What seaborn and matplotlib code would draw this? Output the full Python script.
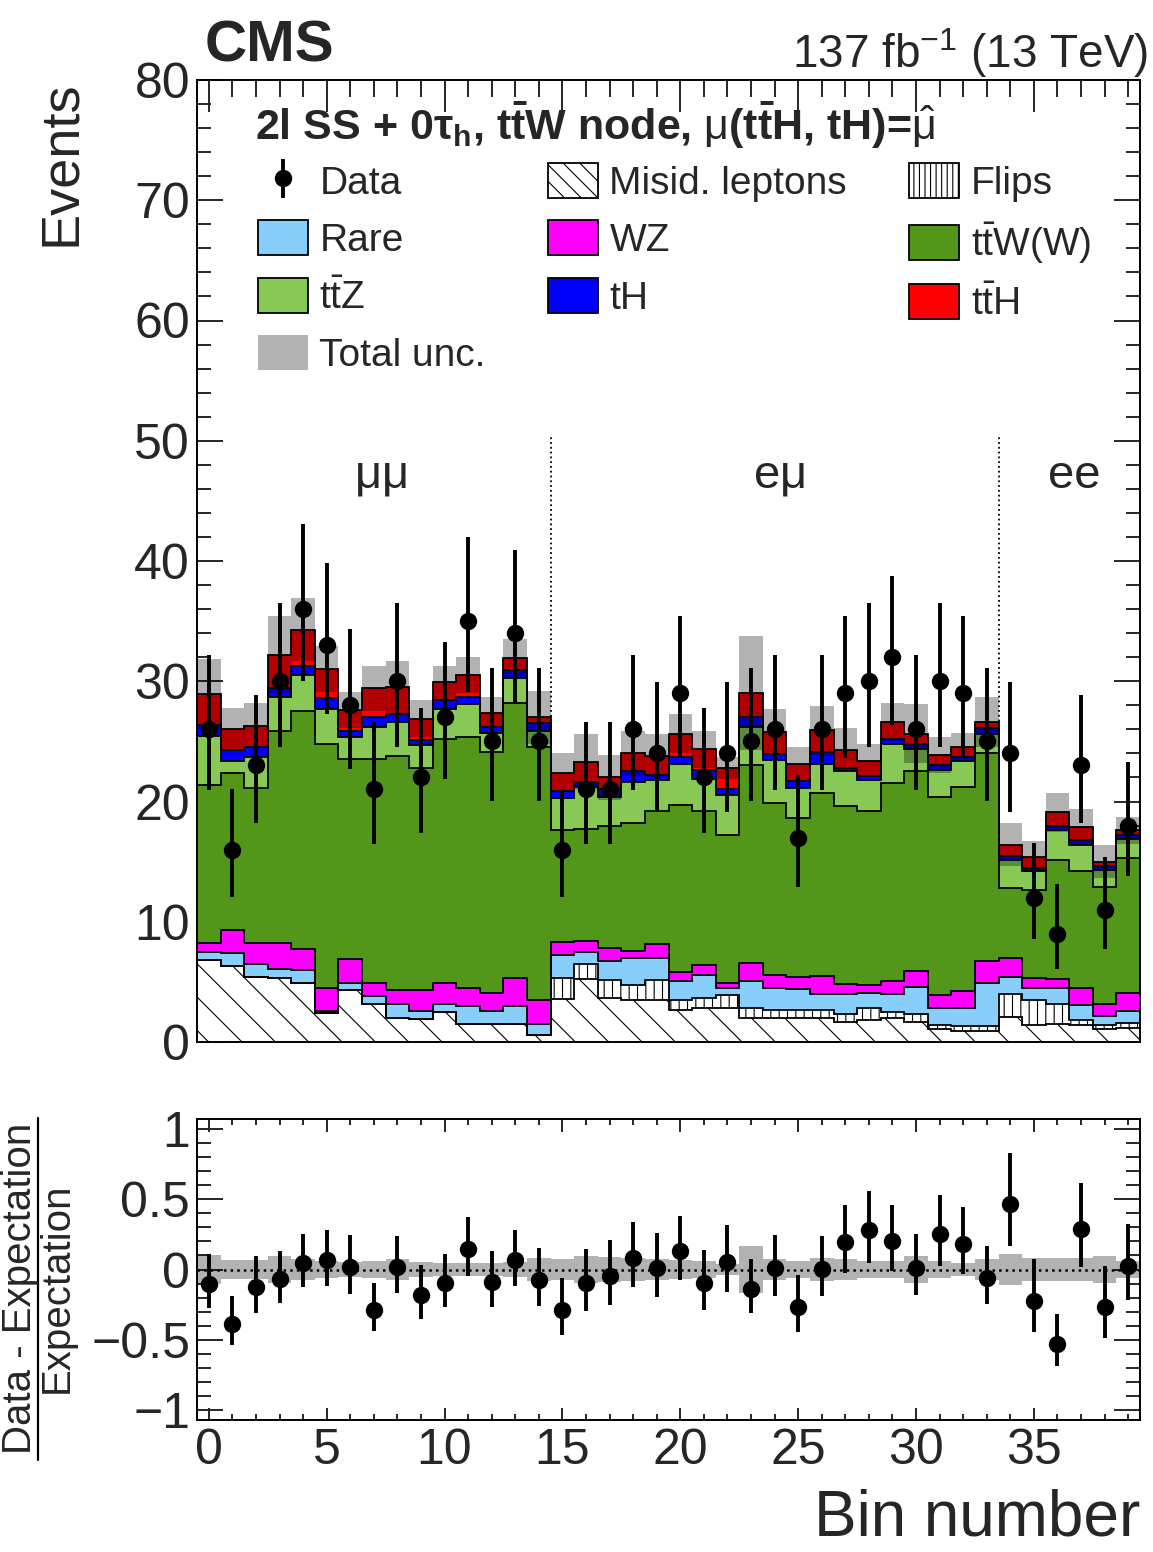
import numpy as np
import pandas as pd
import matplotlib.pyplot as plt
from matplotlib.patches import Patch
from matplotlib.lines import Line2D
from matplotlib.ticker import MultipleLocator
import seaborn as sns

# bin contents (events per bin)
bins = np.arange(40)
edges = np.arange(41) - 0.5

data = [26, 16, 23, 30, 36, 33, 28, 21, 30, 22, 27, 35, 25, 34, 25,
        16, 21, 21, 26, 24, 29, 22, 24, 25, 26, 17, 26, 29, 30, 32, 26, 30, 29, 25,
        24, 12, 9, 23, 11, 18]

misid = [6.8, 6.3, 5.4, 5.3, 4.9, 2.4, 4.3, 3.2, 2.0, 1.9, 2.5, 1.5, 1.5, 1.5, 0.6,
         3.6, 5.2, 3.7, 3.5, 3.5, 2.7, 2.8, 2.8, 2.0, 2.0, 2.0, 2.0, 1.7, 1.8, 2.0, 1.7, 1.1, 0.9, 0.9,
         2.1, 1.4, 1.5, 1.4, 1.1, 1.2]
flips = [0] * 15 + [1.7, 1.3, 1.45, 1.2, 1.65, 0.8, 0.9, 1.1, 0.8, 0.66, 0.66, 0.66, 0.6, 1.0, 0.5,
                    0.6, 0.3, 0.4, 0.4,
                    1.9, 2.1, 1.7, 0.4, 0.3, 0.4]
rare = [0.7, 1.1, 1.1, 0.8, 1.1, 0.2, 0.6, 0.6, 1.2, 0.7, 0.7, 1.5, 1.1, 1.5, 0.9,
        1.9, 1.0, 1.55, 2.26, 1.8, 1.6, 1.9, 0.6, 2.3, 1.85, 1.75, 1.35, 1.7, 1.3, 1.5, 2.3, 1.4, 1.5, 3.6,
        1.4, 1.0, 1.3, 1.3, 0.8, 1.0]
wz = [0.75, 1.9, 1.75, 2.1, 1.7, 1.9, 2.0, 1.1, 1.1, 1.7, 1.7, 1.45, 1.5, 2.3, 2.0,
      1.1, 0.9, 1.1, 0.64, 1.24, 0.7, 0.8, 0.4, 1.5, 1.1, 1.0, 1.5, 0.85, 0.6, 1.1, 1.3, 1.1, 1.4, 1.8,
      1.6, 0.8, 0.7, 1.4, 1.0, 1.5]
ttw = [13.1, 13.1, 12.85, 17.65, 19.8, 20.3, 16.6, 18.6, 19.5, 18.45, 20.3, 20.95, 20.0, 22.9, 21.0,
       9.3, 9.3, 10.2, 10.6, 11.0, 13.9, 12.8, 12.3, 16.4, 14.3, 13.2, 15.2, 14.75, 14.5, 16.4, 16.6, 16.5, 17.0, 17.3,
       5.8, 7.3, 9.9, 9.7, 9.7, 11.2]
ttz = [4.1, 1.0, 2.6, 2.8, 3.0, 2.9, 1.9, 2.7, 2.8, 1.95, 2.5, 2.7, 1.6, 2.1, 1.4,
       2.65, 3.5, 2.4, 3.4, 2.6, 3.4, 2.7, 3.3, 3.2, 3.5, 2.5, 2.4, 2.9, 2.6, 3.3, 1.9, 2.2, 2.2, 1.65,
       2.3, 1.6, 2.5, 2.2, 1.4, 1.6]
th = [0.9, 0.9, 0.8, 0.75, 0.8, 0.9, 0.5, 0.8, 0.7, 0.4, 0.7, 0.6, 0.5, 0.6, 0.6,
      0.65, 0.4, 0.6, 0.9, 0.4, 0.6, 0.7, 0.5, 0.8, 0.5, 0.6, 1.0, 0.3, 0.3, 0.4, 0.35, 0.4, 0.3, 0.45,
      0.4, 0.3, 0.4, 0.4, 0.3, 0.3]
tth = [2.6, 1.7, 1.8, 2.8, 3.0, 2.4, 1.7, 2.4, 2.2, 1.8, 1.5, 1.8, 1.2, 1.05, 0.5,
       1.5, 1.7, 1.0, 1.5, 1.6, 1.95, 1.75, 1.8, 2.0, 1.9, 1.4, 1.8, 1.5, 1.3, 1.4, 0.9, 0.9, 0.8, 0.5,
       0.9, 0.9, 1.1, 1.1, 0.4, 0.4]
tot_unc = [2.9, 1.8, 1.85, 3.2, 2.6, 1.9, 1.5, 1.85, 2.2, 1.5, 1.35, 1.5, 1.25, 1.6, 2.2,
           1.65, 2.3, 1.9, 1.9, 1.8, 1.65, 1.55, 0.9, 4.75, 1.9, 1.45, 2.06, 1.8, 1.4, 1.55, 2.45, 1.5, 1.2, 2.05,
           1.8, 1.3, 1.6, 1.5, 1.4, 1.1]

procs = ['misid', 'flips', 'rare', 'wz', 'ttw', 'ttz', 'th', 'tth']
yields = [misid, flips, rare, wz, ttw, ttz, th, tth]
colors = {'misid': '#ffffff', 'flips': '#ffffff', 'rare': '#87cefa', 'wz': '#ff00ff',
          'ttw': '#52961a', 'ttz': '#88c855', 'th': '#0000ff', 'tth': '#ff0000'}
labels = {'misid': 'Misid. leptons', 'flips': 'Flips', 'rare': 'Rare', 'wz': 'WZ',
          'ttw': r't$\mathrm{\bar{t}}$W(W)', 'ttz': r't$\mathrm{\bar{t}}$Z',
          'th': 'tH', 'tth': r't$\mathrm{\bar{t}}$H'}

df = pd.DataFrame({'bin': np.tile(bins, len(procs)),
                   'process': np.repeat(procs, len(bins)),
                   'events': np.concatenate(yields)})

cum = np.cumsum(np.array(yields), axis=0)
total = cum[-1]
unc = np.array(tot_unc)
n = np.array(data, dtype=float)


# Garwood (68%) Poisson intervals via the Wilson-Hilferty chi2 approximation
def chi2q(k, z):
    return k * (1 - 2 / (9 * k) + z * np.sqrt(2 / (9 * k))) ** 3


err_lo = n - chi2q(2 * n, -1.0) / 2
err_hi = chi2q(2 * n + 2, 1.0) / 2 - n

sns.set_theme(style='ticks')
plt.rcParams.update({
    'font.family': ['Liberation Sans', 'DejaVu Sans'],
    'mathtext.fontset': 'custom',
    'mathtext.rm': 'Liberation Sans',
    'mathtext.it': 'Liberation Sans:italic',
    'mathtext.bf': 'Liberation Sans:bold',
    'xtick.direction': 'in', 'ytick.direction': 'in',
    'xtick.top': True, 'ytick.right': True,
    'axes.linewidth': 1.4, 'axes.edgecolor': 'black',
    'hatch.linewidth': 0.8, 'hatch.color': 'black',
})

W, H = 1153, 1552
fig = plt.figure(figsize=(W / 100, H / 100), dpi=100)
ax = fig.add_axes([197 / W, 1 - 1042 / H, 943 / W, 962 / H])
rax = fig.add_axes([197 / W, 1 - 1420 / H, 943 / W, 301 / H])

# channel separators (behind the stack)
ax.vlines([14.5, 33.5], 0, 50.5, colors='black', linestyles=':', lw=1.3, zorder=0.5)

# stacked backgrounds + signal
sns.histplot(df, x='bin', weights='events', hue='process', hue_order=procs[::-1],
             palette=colors, multiple='stack', discrete=True, element='step',
             alpha=1, linewidth=0, legend=False, ax=ax)

ax.stairs(cum[0], edges, baseline=0, fill=True, facecolor='none', edgecolor='black',
          hatch='\\', lw=0)
ax.stairs(cum[1], edges, baseline=cum[0], fill=True, facecolor='none', edgecolor='black',
          hatch='||', lw=0)
for row in cum:
    ax.stairs(row, edges, baseline=None, color='black', lw=1.3)

ax.stairs(total + unc, edges, baseline=total - unc, fill=True, color='black', alpha=0.3, lw=0)

h_data = ax.errorbar(bins, n, yerr=[err_lo, err_hi], fmt='o', color='black', ms=11.5,
                     elinewidth=2.8, capsize=0, zorder=5)

ax.text(7.3, 47.1, r'$\mathrm{\mu\mu}$', ha='center', va='center', fontsize=34)
ax.text(24.2, 47.1, r'e$\mathrm{\mu}$', ha='center', va='center', fontsize=34)
ax.text(36.7, 47.1, 'ee', ha='center', va='center', fontsize=34)

ax.text(0.0615, 0.953,
        r'2l SS + 0$\mathbf{\tau_{h}}$, t$\mathbf{\bar{t}}$W node, '
        r'$\mathrm{\mu}$(t$\mathbf{\bar{t}}$H, tH)=$\mathrm{\hat{\mu}}$',
        transform=ax.transAxes, ha='left', va='center', fontsize=31, fontweight='bold')

ax.set_xlim(-0.5, 39.5)
ax.set_ylim(0, 80)
ax.xaxis.set_major_locator(MultipleLocator(5))
ax.xaxis.set_minor_locator(MultipleLocator(1))
ax.yaxis.set_major_locator(MultipleLocator(10))
ax.yaxis.set_minor_locator(MultipleLocator(2))
ax.tick_params(axis='x', which='major', length=23, width=1.4, labelbottom=False)
ax.tick_params(axis='x', which='minor', length=12, width=1.4)
ax.tick_params(axis='y', which='major', length=19, width=1.4, labelsize=36, pad=5)
ax.tick_params(axis='y', which='minor', length=10, width=1.4)
ax.set_xlabel('')
ax.set_ylabel('Events', fontsize=39, loc='top')
ax.yaxis.set_label_coords(-0.118, 1.0)

# legend
def box(p, **kw):
    return Patch(facecolor=colors[p], edgecolor='black', lw=1.3, label=labels[p], **kw)

h_unc = Patch(facecolor='black', alpha=0.3, edgecolor='none', label='Total unc.')
handles = [h_data, box('rare'), box('ttz'), h_unc,
           box('misid', hatch='\\\\'), box('wz'), box('th'),
           box('flips', hatch='|||'), box('ttw'), box('tth')]
leg_labels = ['Data', labels['rare'], labels['ttz'], 'Total unc.',
              labels['misid'], labels['wz'], labels['th'],
              labels['flips'], labels['ttw'], labels['tth']]
ax.legend(handles, leg_labels, ncol=3, loc='upper left', bbox_to_anchor=(0.0647, 0.9137),
          frameon=False, fontsize=28, handlelength=1.28, handleheight=1.0,
          handletextpad=0.3, labelspacing=0.48, columnspacing=1.6,
          borderpad=0, borderaxespad=0)

# ratio panel
rel_unc = unc / total
rax.stairs(rel_unc, edges, baseline=-rel_unc, fill=True, color='black', alpha=0.3, lw=0)
rax.axhline(0, color='black', ls=':', lw=1.8)
rax.errorbar(bins, (n - total) / total, yerr=[err_lo / total, err_hi / total], fmt='o',
             color='black', ms=11.5, elinewidth=2.8, capsize=0, zorder=5)
rax.set_xlim(-0.5, 39.5)
rax.set_ylim(-1.07, 1.07)
rax.xaxis.set_major_locator(MultipleLocator(5))
rax.xaxis.set_minor_locator(MultipleLocator(1))
rax.yaxis.set_major_locator(MultipleLocator(0.5))
rax.yaxis.set_minor_locator(MultipleLocator(0.1))
rax.set_yticks([-1, -0.5, 0, 0.5, 1], ['\u22121', '\u22120.5', '0', '0.5', '1'])
rax.tick_params(axis='x', which='major', length=9, width=1.4, labelsize=36, pad=6)
rax.tick_params(axis='x', which='minor', length=4.5, width=1.4)
rax.tick_params(axis='y', which='major', length=19, width=1.4, labelsize=36, pad=5)
rax.tick_params(axis='y', which='minor', length=10, width=1.4)
rax.set_xlabel('Bin number', fontsize=46, loc='right')
rax.xaxis.set_label_coords(1.0, -0.226)
rax.set_ylabel('')

# two-line ratio label (fraction), kept inside the canvas
fig.text(57 / W, 1 - 1288 / H, 'Expectation', rotation=90, ha='center', va='center', fontsize=29)
fig.text(20 / W, 1 - 1288 / H, 'Data - Expectation', rotation=90, ha='center', va='center',
         fontsize=29)
fig.add_artist(Line2D([38 / W, 38 / W], [1 - 1118 / H, 1 - 1460 / H], color='black', lw=1.6))

fig.text(205 / W, 1 - 62 / H, 'CMS', fontsize=42, fontweight='bold', va='baseline')
fig.text(1148 / W, 1 - 68 / H, r'137 fb$^{-1}$ (13 TeV)', fontsize=33, ha='right', va='baseline')

fig.savefig('out.png', dpi=100)
